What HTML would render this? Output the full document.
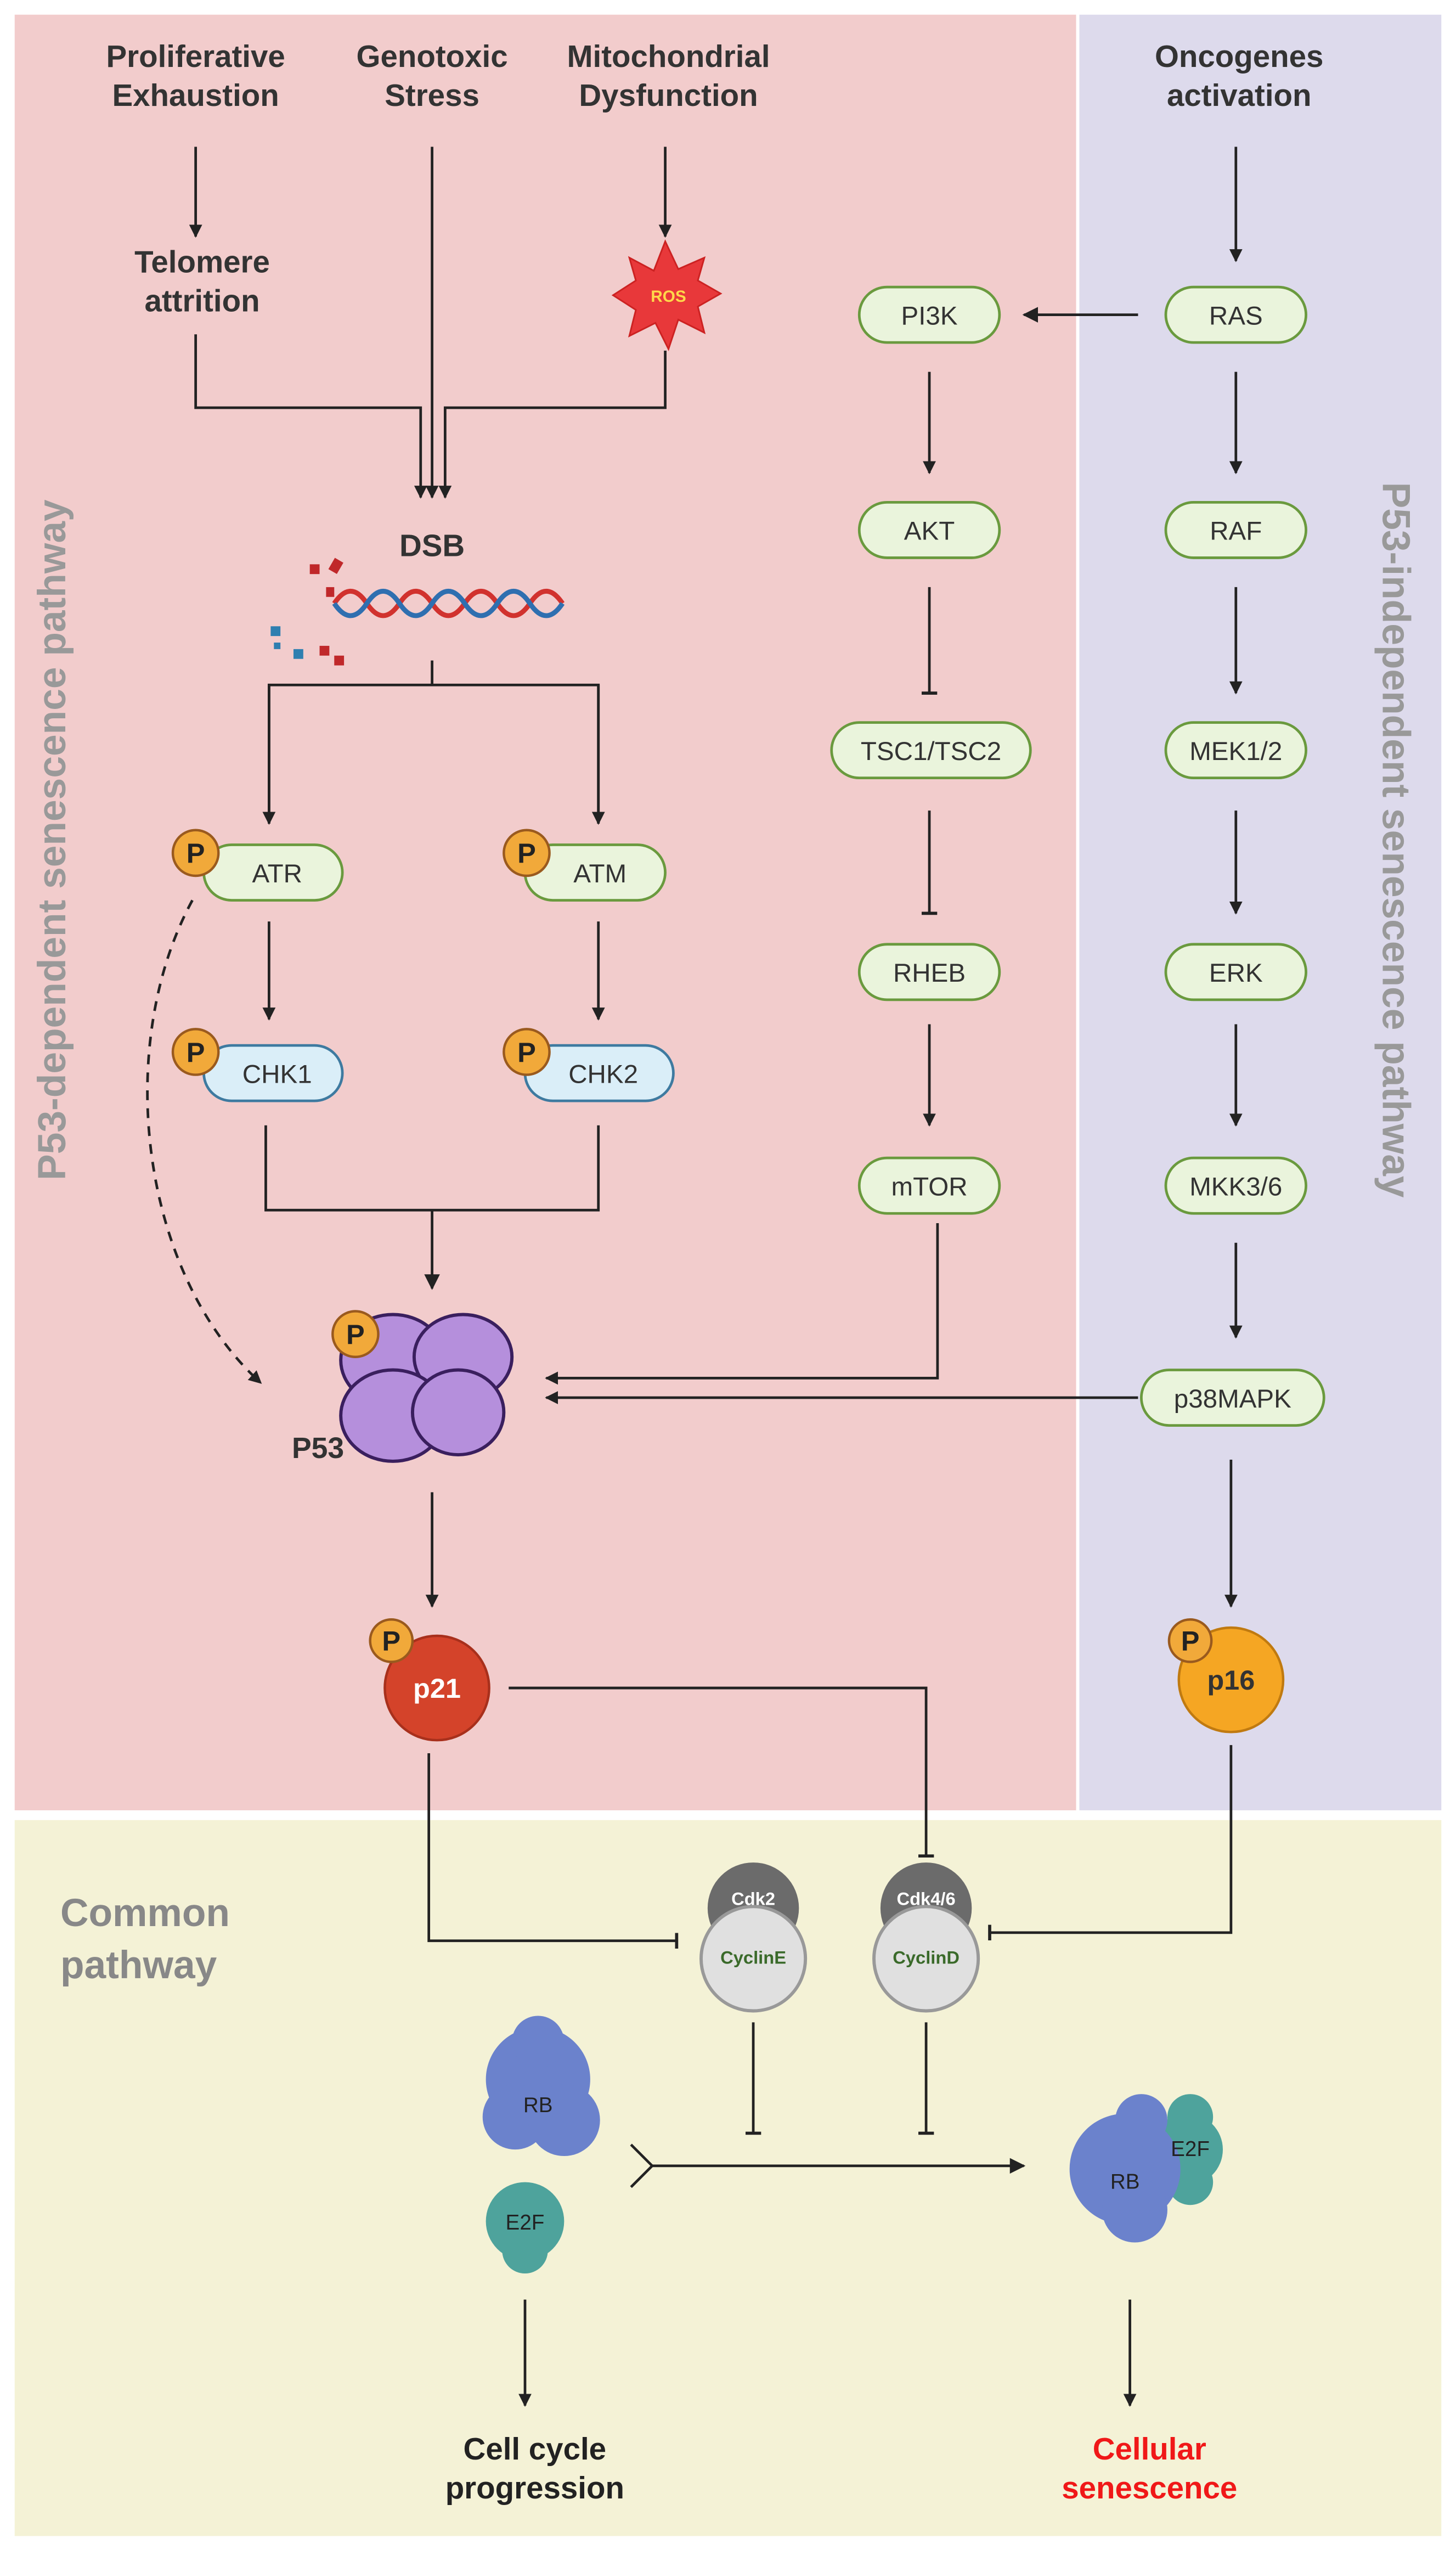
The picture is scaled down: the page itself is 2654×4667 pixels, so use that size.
<!DOCTYPE html>
<html><head><meta charset="utf-8"><style>
html,body{margin:0;padding:0;background:#fff}
svg{display:block}
text{font-family:"Liberation Sans",sans-serif}
</style></head><body>
<svg width="2654" height="4667" viewBox="0 0 893 1570.3" preserveAspectRatio="none" xmlns="http://www.w3.org/2000/svg">
<defs>
<marker id="a" viewBox="0 0 10 10" refX="9" refY="5" markerWidth="5" markerHeight="5" orient="auto"><path d="M0,0L10,5L0,10z" fill="#222"/></marker>
<marker id="ab" viewBox="0 0 10 10" refX="9" refY="5" markerWidth="6" markerHeight="6" orient="auto"><path d="M0,0L10,5L0,10z" fill="#222"/></marker>
<marker id="t" viewBox="0 0 10 10" refX="5" refY="5" markerWidth="6" markerHeight="6" orient="auto"><path d="M5,0V10" stroke="#222" stroke-width="2"/></marker>
</defs>
<rect x="0" y="0" width="893" height="1570.3" fill="#fff"/>
<rect x="9" y="9" width="651" height="1101" fill="#f2cccc"/>
<rect x="662" y="9" width="222" height="1101" fill="#dddaec"/>
<rect x="9" y="1116" width="875" height="439" fill="#f4f2d6"/>

<g font-weight="bold" font-size="19" fill="#333" text-anchor="middle">
<text x="120" y="41">Proliferative</text><text x="120" y="65">Exhaustion</text>
<text x="265" y="41">Genotoxic</text><text x="265" y="65">Stress</text>
<text x="410" y="41">Mitochondrial</text><text x="410" y="65">Dysfunction</text>
<text x="760" y="41">Oncogenes</text><text x="760" y="65">activation</text>
<text x="124" y="167">Telomere</text><text x="124" y="191">attrition</text>
<text x="265" y="341">DSB</text>
<text x="195" y="894" font-size="18">P53</text>
</g>
<text transform="translate(40,515) rotate(-90)" text-anchor="middle" font-weight="bold" font-size="24" fill="#999">P53-dependent senescence pathway</text>
<text transform="translate(848,515) rotate(90)" text-anchor="middle" font-weight="bold" font-size="24" fill="#999">P53-independent senescence pathway</text>
<text x="37" y="1181" font-weight="bold" font-size="24" fill="#888">Common</text>
<text x="37" y="1213" font-weight="bold" font-size="24" fill="#888">pathway</text>

<g stroke="#222" stroke-width="1.6" fill="none">
<path d="M120,90V145" marker-end="url(#a)"/>
<path d="M408,90V145" marker-end="url(#a)"/>
<path d="M265,90V305" marker-end="url(#a)"/>
<path d="M120,205V250H258V305" marker-end="url(#a)"/>
<path d="M408,215V250H273V305" marker-end="url(#a)"/>
<path d="M265,405V420M165,505V420H367V505" />
<path d="M165,420V505" marker-end="url(#a)"/><path d="M367,420V505" marker-end="url(#a)"/>
<path d="M165,565V625" marker-end="url(#a)"/><path d="M367,565V625" marker-end="url(#a)"/>
<path d="M163,690V742H367V690"/>
<path d="M265,742V790" marker-end="url(#ab)"/>
<path d="M118,552C70,640 85,780 160,848" stroke-dasharray="6,5" marker-end="url(#a)"/>
<path d="M758,90V160" marker-end="url(#a)"/>
<path d="M698,193H628" marker-end="url(#ab)"/>
<path d="M758,228V290" marker-end="url(#a)"/>
<path d="M758,360V425" marker-end="url(#a)"/>
<path d="M758,497V560" marker-end="url(#a)"/>
<path d="M758,628V690" marker-end="url(#a)"/>
<path d="M758,762V820" marker-end="url(#a)"/>
<path d="M570,228V290" marker-end="url(#a)"/>
<path d="M570,360V425" marker-end="url(#t)"/>
<path d="M570,497V560" marker-end="url(#t)"/>
<path d="M570,628V690" marker-end="url(#a)"/>
<path d="M575,750V845H335" marker-end="url(#a)"/>
<path d="M698,857H335" marker-end="url(#a)"/>
<path d="M755,895V985" marker-end="url(#a)"/>
<path d="M265,915V985" marker-end="url(#a)"/>
<path d="M312,1035H568V1138" marker-end="url(#t)"/>
<path d="M263,1075V1190H415" marker-end="url(#t)"/>
<path d="M755,1070V1185H607" marker-end="url(#t)"/>
<path d="M462,1240V1308" marker-end="url(#t)"/>
<path d="M568,1240V1308" marker-end="url(#t)"/>
<path d="M400,1328H628" marker-end="url(#ab)"/>
<path d="M387,1315L400,1328L387,1341"/>
<path d="M322,1410V1475" marker-end="url(#a)"/>
<path d="M693,1410V1475" marker-end="url(#a)"/>
</g>

<!-- ROS -->
<polygon points="408,148 416,165 432,158 428,172 442,180 428,188 432,204 416,196 410,214 402,198 386,206 390,190 376,181 390,172 386,158 401,166" fill="#e8383a" stroke="#c22" stroke-width="1"/>
<text x="410" y="185" text-anchor="middle" font-size="10" font-weight="bold" fill="#ffd84a">ROS</text>

<!-- DNA -->
<g fill="none" stroke-width="3">
<path d="M205,370 Q215,355 225,370 T245,370 T265,370 T285,370 T305,370 T325,370 T345,370" stroke="#d1322e"/>
<path d="M205,370 Q215,385 225,370 T245,370 T265,370 T285,370 T305,370 T325,370 T345,370" stroke="#2f6fb0"/>
</g>
<g fill="#c0282a"><rect x="190" y="346" width="6" height="6"/><rect x="203" y="343" width="6" height="8" transform="rotate(30 206 347)"/><rect x="200" y="360" width="5" height="6"/><rect x="196" y="396" width="6" height="6"/><rect x="205" y="402" width="6" height="6"/></g>
<g fill="#2f7fb0"><rect x="166" y="384" width="6" height="6"/><rect x="180" y="398" width="6" height="6"/><rect x="168" y="394" width="4" height="4"/></g>

<!-- pills -->
<g font-size="16" text-anchor="middle" fill="#333">
<g fill="#eaf4dc" stroke="#6a9a3e" stroke-width="1.6">
<rect x="125" y="518" width="85" height="34" rx="17"/>
<rect x="322" y="518" width="86" height="34" rx="17"/>
<rect x="527" y="176" width="86" height="34" rx="17"/>
<rect x="527" y="308" width="86" height="34" rx="17"/>
<rect x="510" y="443" width="122" height="34" rx="17"/>
<rect x="527" y="579" width="86" height="34" rx="17"/>
<rect x="527" y="710" width="86" height="34" rx="17"/>
<rect x="715" y="176" width="86" height="34" rx="17"/>
<rect x="715" y="308" width="86" height="34" rx="17"/>
<rect x="715" y="443" width="86" height="34" rx="17"/>
<rect x="715" y="579" width="86" height="34" rx="17"/>
<rect x="715" y="710" width="86" height="34" rx="17"/>
<rect x="700" y="840" width="112" height="34" rx="17"/>
</g>
<g fill="#daeef8" stroke="#3e7aa0" stroke-width="1.6">
<rect x="125" y="641" width="85" height="34" rx="17"/>
<rect x="322" y="641" width="91" height="34" rx="17"/>
</g>
<text x="170" y="541">ATR</text><text x="368" y="541">ATM</text>
<text x="170" y="664">CHK1</text><text x="370" y="664">CHK2</text>
<text x="570" y="199">PI3K</text><text x="570" y="331">AKT</text><text x="571" y="466">TSC1/TSC2</text>
<text x="570" y="602">RHEB</text><text x="570" y="733">mTOR</text>
<text x="758" y="199">RAS</text><text x="758" y="331">RAF</text><text x="758" y="466">MEK1/2</text>
<text x="758" y="602">ERK</text><text x="758" y="733">MKK3/6</text><text x="756" y="863">p38MAPK</text>
</g>

<!-- P53 cluster -->
<g fill="#b58fdc" stroke="#3a1f5e" stroke-width="2">
<ellipse cx="241" cy="834" rx="32" ry="28"/>
<ellipse cx="284" cy="832" rx="30" ry="26"/>
<ellipse cx="241" cy="868" rx="32" ry="28"/>
<ellipse cx="281" cy="866" rx="28" ry="26"/>
</g>

<!-- p21 / p16 -->
<circle cx="268" cy="1035" r="32" fill="#d4432a" stroke="#a8301c" stroke-width="1.5"/>
<text x="268" y="1041" text-anchor="middle" font-weight="bold" font-size="17" fill="#fff">p21</text>
<circle cx="755" cy="1030" r="32" fill="#f5a623" stroke="#c07a10" stroke-width="1.5"/>
<text x="755" y="1036" text-anchor="middle" font-weight="bold" font-size="17" fill="#333">p16</text>

<!-- P badges -->
<g fill="#f1a93a" stroke="#9a5a1e" stroke-width="1.5">
<circle cx="120" cy="523" r="14"/><circle cx="323" cy="523" r="14"/>
<circle cx="120" cy="645" r="14"/><circle cx="323" cy="645" r="14"/>
<circle cx="218" cy="818" r="14"/><circle cx="240" cy="1006" r="13"/><circle cx="730" cy="1006" r="13"/>
</g>
<g font-weight="bold" font-size="17" text-anchor="middle" fill="#222">
<text x="120" y="529">P</text><text x="323" y="529">P</text><text x="120" y="651">P</text><text x="323" y="651">P</text>
<text x="218" y="824">P</text><text x="240" y="1012">P</text><text x="730" y="1012">P</text>
</g>

<!-- Cdk/Cyclin -->
<g>
<circle cx="462" cy="1170" r="28" fill="#6b6b6b"/><circle cx="568" cy="1170" r="28" fill="#6b6b6b"/>
<circle cx="462" cy="1201" r="32" fill="#e0e0e0" stroke="#999" stroke-width="2"/>
<circle cx="568" cy="1201" r="32" fill="#e0e0e0" stroke="#999" stroke-width="2"/>
<g text-anchor="middle" font-weight="bold" font-size="11">
<text x="462" y="1168" fill="#fff">Cdk2</text><text x="568" y="1168" fill="#fff">Cdk4/6</text>
<text x="462" y="1204" fill="#3a6a2a">CyclinE</text><text x="568" y="1204" fill="#3a6a2a">CyclinD</text>
</g>
</g>

<!-- RB / E2F -->
<g fill="#6b82cc">
<circle cx="330" cy="1275" r="32"/><circle cx="316" cy="1298" r="20"/><circle cx="346" cy="1300" r="22"/><circle cx="330" cy="1252" r="16"/>
</g>
<g fill="#4ea39c"><circle cx="322" cy="1362" r="24"/><circle cx="322" cy="1380" r="14"/></g>
<g fill="#4ea39c"><circle cx="728" cy="1318" r="22"/><circle cx="730" cy="1298" r="14"/><circle cx="730" cy="1338" r="14"/></g>
<g fill="#6b82cc"><circle cx="690" cy="1330" r="34"/><circle cx="700" cy="1300" r="16"/><circle cx="696" cy="1355" r="20"/></g>
<g text-anchor="middle" font-size="13" fill="#222">
<text x="330" y="1295">RB</text><text x="322" y="1367">E2F</text>
<text x="690" y="1342">RB</text><text x="730" y="1322">E2F</text>
</g>

<g font-weight="bold" font-size="19" text-anchor="middle">
<text x="328" y="1508" fill="#222">Cell cycle</text><text x="328" y="1532" fill="#222">progression</text>
<text x="705" y="1508" fill="#f01818">Cellular</text><text x="705" y="1532" fill="#f01818">senescence</text>
</g>
</svg>
</body></html>
